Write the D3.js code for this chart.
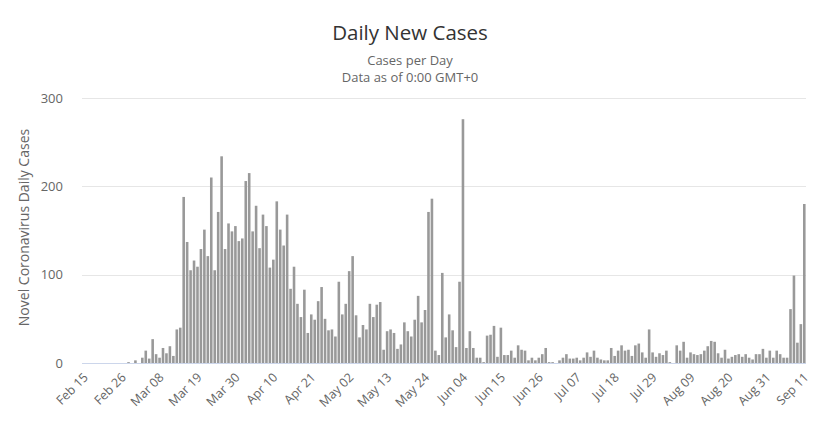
<!DOCTYPE html>
<html>
<head>
<meta charset="utf-8">
<script src="https://cdn.jsdelivr.net/npm/d3@7"></script>
<style>
  html, body { margin: 0; padding: 0; background: #fff; }
  svg { display: block; font-family: "Open Sans", "Liberation Sans", sans-serif; }
</style>
</head>
<body>
<svg id="chart" width="820" height="431"></svg>
<script>
// ---- Data ----
const startDate = "2020-02-15";
const dailyCases = [
  0,0,0,0,0,0,0,0,0,0,0,0,0,1,0,3,0,6,14,5,
  27,10,6,17,11,19,8,38,40,188,137,105,116,109,129,151,121,210,105,171,
  234,129,158,149,155,138,141,206,215,149,178,130,168,155,108,117,183,151,133,168,
  84,109,67,52,83,34,55,49,70,86,50,37,38,30,92,55,67,104,121,54,
  29,43,38,67,52,66,69,15,36,38,34,16,21,46,36,30,49,76,46,60,
  171,186,14,9,102,29,55,37,18,92,276,17,36,17,6,6,1,31,32,42,
  7,40,9,9,14,6,20,15,14,3,6,3,6,10,17,1,1,0,3,6,
  10,5,5,6,3,6,12,7,14,6,4,3,3,17,8,14,20,14,15,8,
  20,22,12,6,38,12,7,11,9,14,1,0,20,14,24,6,12,10,9,10,
  14,19,25,24,11,6,15,5,7,9,10,7,10,6,4,10,10,16,6,14,
  6,14,10,6,6,61,99,23,44,180
];
const tickLabels = ["Feb 15","Feb 26","Mar 08","Mar 19","Mar 30","Apr 10","Apr 21","May 02","May 13","May 24",
  "Jun 04","Jun 15","Jun 26","Jul 07","Jul 18","Jul 29","Aug 09","Aug 20","Aug 31","Sep 11"];
const yTicks = [0, 100, 200, 300];
const titleText = "Daily New Cases";
const subtitleLines = ["Cases per Day", "Data as of 0:00 GMT+0"];
const yAxisTitle = "Novel Coronavirus Daily Cases";

// ---- Build categories ----
const fmt = d3.timeFormat("%b %d");
const start = d3.timeParse("%Y-%m-%d")(startDate);
const categories = dailyCases.map((v, i) => fmt(d3.timeDay.offset(start, i)));

// ---- Layout ----
const svg = d3.select("#chart");
const plot = { left: 82, right: 806, top: 98, bottom: 363 };

const x = d3.scaleBand().domain(categories).range([plot.left, plot.right]).paddingInner(0.25).paddingOuter(0.12);
const y = d3.scaleLinear().domain([0, 300]).range([plot.bottom, plot.top]);

// Title
svg.append("text").attr("x", 410).attr("y", 40).attr("text-anchor", "middle")
  .attr("font-size", 20.5).attr("fill", "#333").text(titleText);
subtitleLines.forEach((t, i) => {
  svg.append("text").attr("x", 410).attr("y", 65 + i * 17).attr("text-anchor", "middle")
    .attr("font-size", 13).attr("fill", "#666").text(t);
});

// Grid
svg.append("g").selectAll("line").data(yTicks.filter(d => d > 0)).join("line")
  .attr("x1", plot.left).attr("x2", plot.right)
  .attr("y1", d => Math.round(y(d)) + 0.5).attr("y2", d => Math.round(y(d)) + 0.5)
  .attr("stroke", "#e6e6e6").attr("stroke-width", 1);

// Y axis labels
const yAxis = d3.axisLeft(y).tickValues(yTicks).tickSize(0).tickPadding(0);
const gy = svg.append("g").attr("transform", `translate(${plot.left - 19},0)`).call(yAxis);
gy.select(".domain").remove();
gy.selectAll("text").attr("font-size", 13).attr("fill", "#666").attr("font-family", "Open Sans, Liberation Sans, sans-serif");

// Y axis title
svg.append("text").attr("transform", `translate(29,${(plot.top + plot.bottom) / 2 - 3}) rotate(-90)`)
  .attr("text-anchor", "middle").attr("font-size", 14).attr("fill", "#666").text(yAxisTitle);

// Bars
svg.append("g").selectAll("rect").data(dailyCases).join("rect")
  .attr("x", (d, i) => x(categories[i]))
  .attr("width", x.bandwidth())
  .attr("y", d => y(d))
  .attr("height", d => plot.bottom - y(d))
  .attr("fill", "#999");

// X axis line
svg.append("line").attr("x1", plot.left).attr("x2", plot.right)
  .attr("y1", plot.bottom + 0.5).attr("y2", plot.bottom + 0.5)
  .attr("stroke", "#ccd6eb").attr("stroke-width", 1);

// X axis labels
const xAxis = d3.axisBottom(x).tickValues(tickLabels).tickSize(0).tickPadding(0);
const gx = svg.append("g").attr("transform", `translate(0,${plot.bottom})`).call(xAxis);
gx.select(".domain").remove();
gx.selectAll("text")
  .attr("font-size", 12.5).attr("fill", "#666").attr("font-family", "Open Sans, Liberation Sans, sans-serif")
  .attr("text-anchor", "end")
  .attr("dy", "0.35em")
  .attr("transform", "translate(2,12) rotate(-45)");
</script>
</body>
</html>
